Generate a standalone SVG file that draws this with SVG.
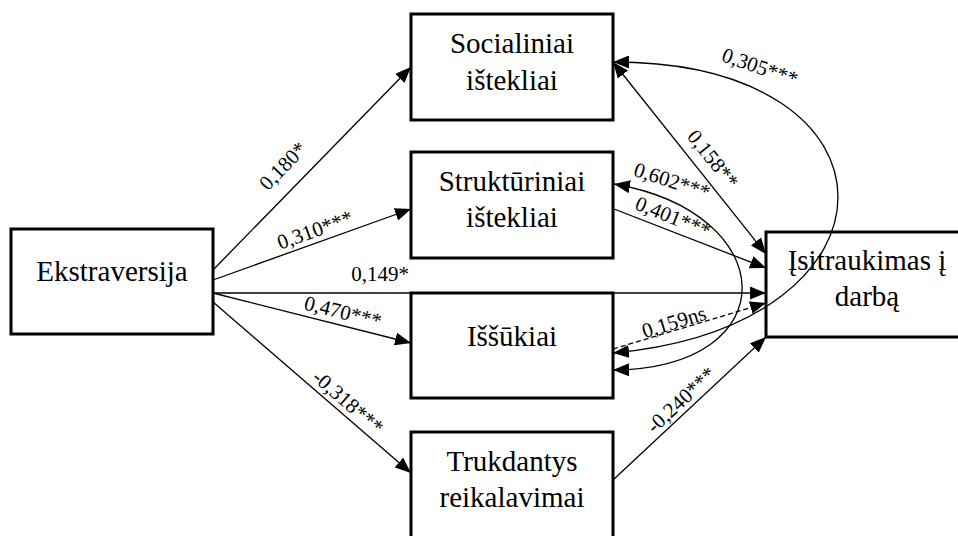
<svg xmlns="http://www.w3.org/2000/svg" width="958" height="536" viewBox="0 0 958 536">
<defs>
<marker id="ah" markerUnits="userSpaceOnUse" markerWidth="16" markerHeight="13" refX="16" refY="6.5" orient="auto-start-reverse" viewBox="0 0 16 13">
<path d="M0,0 L16,6.5 L0,13 z" fill="#000"/>
</marker>
</defs>
<style>
text{font-family:'Liberation Serif',Tinos,'Times New Roman','DejaVu Serif',serif;fill:#000;text-anchor:middle}
.box{fill:#fff;stroke:#000;stroke-width:3}
.nt{font-size:29px}
.lb{font-size:21px}
.c{fill:none;stroke:#000;stroke-width:1.3}
.e{marker-end:url(#ah)}
.b{marker-start:url(#ah);marker-end:url(#ah)}
.d{stroke-dasharray:5 3}
</style>
<rect width="958" height="536" fill="#fff"/>
<g id="connectors" font-family="Liberation Serif, Times New Roman, serif">
<path class="c e" d="M213,270 L411,67"/>
<path class="c e" d="M213,280 L411,209"/>
<path class="c e" d="M213,293 L766,293"/>
<path class="c e" d="M213,293 L411,343"/>
<path class="c e" d="M213,302 L411,473"/>
<path class="c b" d="M613,62 L766,254"/>
<path class="c e" d="M614,209 L766,268"/>
<path class="c e d" d="M613,349 L766,303"/>
<path class="c e" d="M613,480 L766,337"/>
<path class="c b" d="M613,62 C913,62 913,325 613,353"/>
<path class="c b" d="M614,184 C782,213 788,368 613,370"/>
<g id="labels">
<text class="lb" transform="translate(283,166) rotate(-45.7)" x="0" y="7">0,180*</text>
<text class="lb" transform="translate(315,230) rotate(-19.7)" x="0" y="7">0,310***</text>
<text class="lb" x="380" y="281">0,149*</text>
<text class="lb" transform="translate(343,312) rotate(14.2)" x="0" y="7">0,470***</text>
<text class="lb" transform="translate(348,402) rotate(40.8)" x="0" y="7">-0,318***</text>
<text class="lb" transform="translate(760,67) rotate(19)" x="0" y="7">0,305***</text>
<text class="lb" transform="translate(713,159) rotate(51.4)" x="0" y="7">0,158**</text>
<text class="lb" transform="translate(672,181) rotate(18)" x="0" y="7">0,602***</text>
<text class="lb" transform="translate(673,217) rotate(22)" x="0" y="7">0,401***</text>
<text class="lb" transform="translate(674,322) rotate(-17)" x="0" y="7">0,159ns</text>
<text class="lb" transform="translate(681,400) rotate(-43)" x="0" y="7">-0,240***</text>
</g>
</g>
<g id="ekstraversija">
<rect class="box" x="11" y="229" width="202" height="105"/>
<text class="nt" x="112" y="281">Ekstraversija</text>
</g>
<g id="socialiniai">
<rect class="box" x="411" y="14" width="202" height="106"/>
<text class="nt" x="512" y="53">Socialiniai</text>
<text class="nt" x="512" y="90">ištekliai</text>
</g>
<g id="strukturiniai">
<rect class="box" x="411" y="152" width="202" height="106"/>
<text class="nt" x="512" y="191">Struktūriniai</text>
<text class="nt" x="512" y="227">ištekliai</text>
</g>
<g id="issukiai">
<rect class="box" x="411" y="293" width="202" height="105"/>
<text class="nt" x="512" y="346">Iššūkiai</text>
</g>
<g id="trukdantys">
<rect class="box" x="411" y="432" width="202" height="110"/>
<text class="nt" x="512" y="471">Trukdantys</text>
<text class="nt" x="512" y="507">reikalavimai</text>
</g>
<g id="isitraukimas">
<rect class="box" x="766" y="232" width="204" height="105" fill-opacity="0"/>
<text class="nt" x="867" y="270">Įsitraukimas į</text>
<text class="nt" x="867" y="306">darbą</text>
</g>
</svg>
